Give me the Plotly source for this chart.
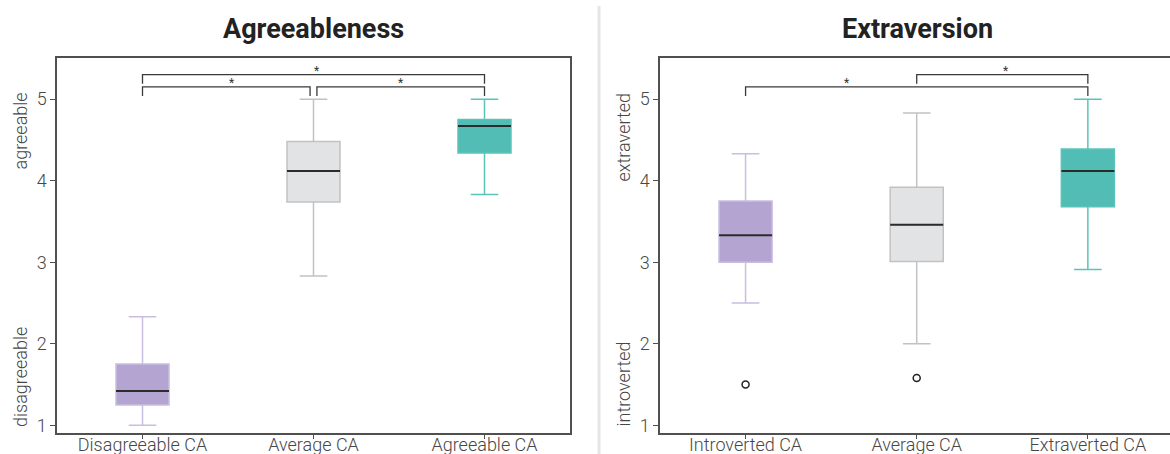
import plotly.graph_objects as go

# ---------------- data ----------------
agree_cats = ["Disagreeable CA", "Average CA", "Agreeable CA"]
agree_lower = [1.00, 2.83, 3.83]
agree_q1 = [1.25, 3.74, 4.34]
agree_median = [1.42, 4.12, 4.67]
agree_q3 = [1.75, 4.48, 4.75]
agree_upper = [2.33, 5.00, 5.00]

extra_cats = ["Introverted CA", "Average CA", "Extraverted CA"]
extra_lower = [2.50, 2.00, 2.91]
extra_q1 = [3.00, 3.01, 3.68]
extra_median = [3.33, 3.46, 4.12]
extra_q3 = [3.75, 3.92, 4.39]
extra_upper = [4.33, 4.83, 5.00]
extra_outlier_group = [0, 1]
extra_outlier_value = [1.50, 1.58]

# significance brackets: (from group, to group, level, label position)
agree_brackets = [(0, 1, 5.15, 0.52), (1, 2, 5.15, 1.51), (0, 2, 5.30, 1.02)]
extra_brackets = [(0, 2, 5.15, 0.59), (1, 2, 5.30, 1.52)]
sig_label = "*"

titles = ["Agreeableness", "Extraversion"]
y_labels = [("agreeable", "disagreeable"), ("extraverted", "introverted")]

fills = ["#b4a4d1", "#e2e3e5", "#52bdb5"]
whisk = ["#c9bde2", "#c2c2c2", "#5cc3bb"]

W, H = 1170, 454
FONT = "Roboto"
TXT = "#474747"
AX = "#505050"

fig = go.Figure()


def px_x(p):
    return p / W


def px_y(p):
    return (H - p) / H


def add_panel(xa, ya, cats, lo, q1, med, q3, hi):
    for i in range(len(cats)):
        fig.add_trace(go.Box(
            x=[i], q1=[q1[i]], median=[med[i]], q3=[q3[i]],
            lowerfence=[lo[i]], upperfence=[hi[i]],
            width=0.31, whiskerwidth=0.52,
            fillcolor=fills[i], line=dict(color=whisk[i], width=1.5),
            boxpoints=False, xaxis=xa, yaxis=ya, showlegend=False,
            hoverinfo="skip"))
        fig.add_trace(go.Box(
            x=[i], q1=[med[i]], median=[med[i]], q3=[med[i]],
            lowerfence=[med[i]], upperfence=[med[i]],
            width=0.31, whiskerwidth=0,
            fillcolor="rgba(0,0,0,0)", line=dict(color="#2b2b2b", width=2),
            boxpoints=False, xaxis=xa, yaxis=ya, showlegend=False,
            hoverinfo="skip"))


def add_brackets(xa, ya, brackets):
    for a, b, lvl, star_x in brackets:
        xa0 = a + (0.02 if any(bb[1] == a and bb[2] == lvl for bb in brackets) else 0)
        xb0 = b - (0.02 if any(bb[0] == b and bb[2] == lvl for bb in brackets) else 0)
        fig.add_trace(go.Scatter(
            x=[xa0, xa0, xb0, xb0], y=[lvl - 0.11, lvl, lvl, lvl - 0.11],
            mode="lines", line=dict(color="#3a3a3a", width=1.3),
            xaxis=xa, yaxis=ya, showlegend=False, hoverinfo="skip"))
        fig.add_annotation(x=star_x, y=lvl, xref=xa, yref=ya,
                           text=sig_label, showarrow=False, yanchor="bottom",
                           xanchor="center", yshift=-5,
                           font=dict(family=FONT, size=12, color="#333"))


add_panel("x", "y", agree_cats, agree_lower, agree_q1, agree_median, agree_q3, agree_upper)
add_panel("x2", "y2", extra_cats, extra_lower, extra_q1, extra_median, extra_q3, extra_upper)

fig.add_trace(go.Scatter(
    x=extra_outlier_group, y=extra_outlier_value, mode="markers",
    marker=dict(symbol="circle-open", size=7, color="#222", line=dict(width=1.5)),
    xaxis="x2", yaxis="y2", showlegend=False, hoverinfo="skip"))

add_brackets("x", "y", agree_brackets)
add_brackets("x2", "y2", extra_brackets)

LBL = dict(family=FONT, size=18, color=TXT, weight=300)

ydom = [px_y(433), px_y(58)]
common_y = dict(range=[0.905, 5.505], tickvals=[1, 2, 3, 4, 5], showgrid=False,
                zeroline=False, showline=True, linecolor=AX, linewidth=1.5,
                ticks="outside", ticklen=5, tickcolor=AX, automargin=False,
                tickfont=LBL, domain=ydom)
common_x = dict(showgrid=False, zeroline=False, showline=True, linecolor=AX,
                linewidth=1.5, ticks="outside", ticklen=4, tickcolor=AX,
                automargin=False, ticklabelstandoff=-9,
                tickvals=[0, 1, 2], tickfont=LBL, mirror=True)

fig.update_layout(
    width=W, height=H, margin=dict(l=0, r=0, t=0, b=0, autoexpand=False),
    paper_bgcolor="white", plot_bgcolor="white", boxmode="overlay",
    xaxis=dict(common_x, domain=[px_x(57), px_x(570)], range=[-0.5, 2.5],
               ticktext=agree_cats, anchor="y"),
    yaxis=dict(common_y, anchor="x", mirror=True),
    xaxis2=dict(common_x, domain=[px_x(660), 1.0], range=[-0.5, 2.48],
                ticktext=extra_cats, anchor="y2"),
    yaxis2=dict(common_y, anchor="x2", mirror=False),
)

# titles
for t, xc in zip(titles, [313, 917]):
    fig.add_annotation(x=px_x(xc), y=px_y(29), xref="paper", yref="paper",
                       text=f"<b>{t}</b>", showarrow=False,
                       xanchor="center", yanchor="middle",
                       font=dict(family=FONT, size=27, color="#222"))

# y axis end labels
for (top, bot), xc in zip(y_labels, [20, 623]):
    fig.add_annotation(x=px_x(xc), y=px_y(91), xref="paper", yref="paper",
                       text=top, textangle=-90, showarrow=False,
                       xanchor="center", yanchor="top", font=LBL)
    fig.add_annotation(x=px_x(xc), y=px_y(429), xref="paper", yref="paper",
                       text=bot, textangle=-90, showarrow=False,
                       xanchor="center", yanchor="bottom", font=LBL)

# separator
fig.add_shape(type="line", xref="paper", yref="paper",
              x0=px_x(599), x1=px_x(599), y0=0, y1=px_y(6),
              line=dict(color="#e6e6e6", width=3))

fig.write_html("out.html", config={"displayModeBar": False, "responsive": False},
               post_script="document.body.style.margin='0';document.body.style.overflow='hidden';")
